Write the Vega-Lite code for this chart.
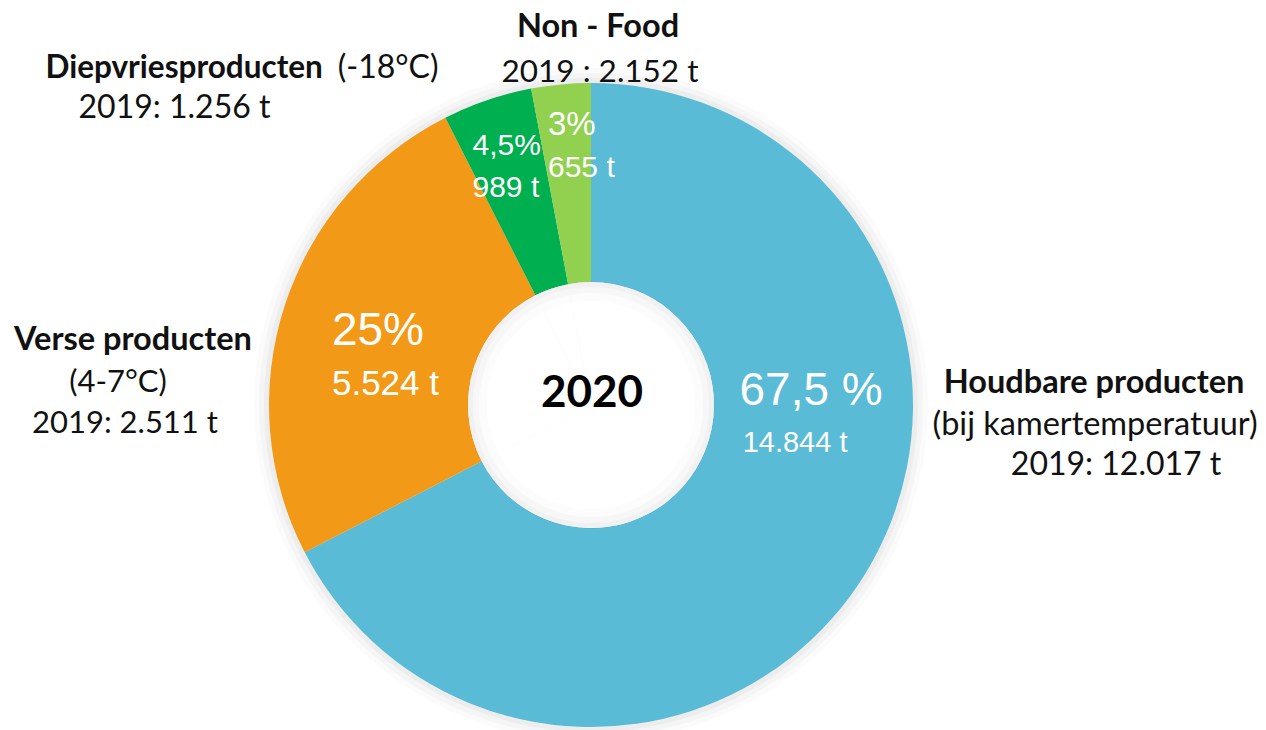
{
  "$schema": "https://vega.github.io/schema/vega-lite/v6.json",
  "autosize": "none",
  "width": 1182,
  "height": 650,
  "padding": {"left": 0, "top": 80, "right": 84, "bottom": 0},
  "background": "white",
  "config": {"view": {"stroke": null}},
  "datasets": {
    "slices": [
      {"cat": "Houdbare producten", "ord": 1, "t": 14844, "pct": "67,5 %", "tt": "14.844 t", "sub": "(bij kamertemperatuur)", "prev": "2019: 12.017 t"},
      {"cat": "Verse producten", "ord": 2, "t": 5524, "pct": "25%", "tt": "5.524 t", "sub": "(4-7°C)", "prev": "2019: 2.511 t"},
      {"cat": "Diepvriesproducten", "ord": 3, "t": 989, "pct": "4,5%", "tt": "989 t", "sub": "(-18°C)", "prev": "2019: 1.256 t"},
      {"cat": "Non - Food", "ord": 4, "t": 655, "pct": "3%", "tt": "655 t", "sub": "", "prev": "2019 : 2.152 t"}
    ],
    "centre": [{"year": "2020"}]
  },
  "data": {"name": "slices"},
  "encoding": {
    "theta": {"field": "t", "type": "quantitative", "stack": true},
    "order": {"field": "ord", "type": "quantitative", "sort": "ascending"}
  },
  "layer": [
    {"mark": {"type": "arc", "radius": 337, "radius2": 0, "fill": "#000", "fillOpacity": 0.015}},
    {"mark": {"type": "arc", "radius": 332, "radius2": 0, "fill": "#000", "fillOpacity": 0.022}},
    {"mark": {"type": "arc", "radius": 327, "radius2": 0, "fill": "#000", "fillOpacity": 0.03}},
    {
      "mark": {"type": "arc", "radius": 322, "radius2": 123},
      "encoding": {
        "color": {
          "field": "cat", "type": "nominal", "legend": null,
          "scale": {
            "domain": ["Houdbare producten", "Verse producten", "Diepvriesproducten", "Non - Food"],
            "range": ["#59BBD6", "#F29A17", "#00AF50", "#92D050"]
          }
        }
      }
    },
    {"mark": {"type": "arc", "radius": 123, "radius2": 0, "fill": "white"}},
    {"mark": {"type": "arc", "radius": 123.5, "radius2": 104, "fill": "#000", "fillOpacity": 0.012}},
    {"mark": {"type": "arc", "radius": 123.5, "radius2": 112, "fill": "#000", "fillOpacity": 0.018}},
    {"mark": {"type": "arc", "radius": 123.5, "radius2": 118, "fill": "#000", "fillOpacity": 0.025}},

    {"mark": {"type": "text", "radius": 225, "font": "Liberation Sans", "fontSize": 46, "fill": "white", "align": "center", "baseline": "alphabetic", "dx": 28, "dy": -117},
     "encoding": {"text": {"condition": {"test": "datum.ord == 1", "field": "pct"}, "value": ""}}},
    {"mark": {"type": "text", "radius": 225, "font": "Liberation Sans", "fontSize": 29, "fill": "white", "align": "center", "baseline": "alphabetic", "dx": 12, "dy": -70},
     "encoding": {"text": {"condition": {"test": "datum.ord == 1", "field": "tt"}, "value": ""}}},
    {"mark": {"type": "text", "radius": 225, "font": "Lato", "fontWeight": "bold", "fontSize": 32.5, "fill": "#111", "align": "center", "baseline": "alphabetic", "dx": 311, "dy": -129},
     "encoding": {"text": {"condition": {"test": "datum.ord == 1", "field": "cat"}, "value": ""}}},
    {"mark": {"type": "text", "radius": 225, "font": "Lato", "fontSize": 32.5, "fill": "#111", "align": "center", "baseline": "alphabetic", "dx": 312, "dy": -87},
     "encoding": {"text": {"condition": {"test": "datum.ord == 1", "field": "sub"}, "value": ""}}},
    {"mark": {"type": "text", "radius": 225, "font": "Lato", "fontSize": 32, "fill": "#111", "align": "center", "baseline": "alphabetic", "dx": 333, "dy": -47},
     "encoding": {"text": {"condition": {"test": "datum.ord == 1", "field": "prev"}, "value": ""}}},

    {"mark": {"type": "text", "radius": 225, "font": "Liberation Sans", "fontSize": 46, "fill": "white", "align": "left", "baseline": "alphabetic", "dx": -45, "dy": 9},
     "encoding": {"text": {"condition": {"test": "datum.ord == 2", "field": "pct"}, "value": ""}}},
    {"mark": {"type": "text", "radius": 225, "font": "Liberation Sans", "fontSize": 35, "fill": "white", "align": "left", "baseline": "alphabetic", "dx": -45, "dy": 59},
     "encoding": {"text": {"condition": {"test": "datum.ord == 2", "field": "tt"}, "value": ""}}},
    {"mark": {"type": "text", "radius": 225, "font": "Lato", "fontWeight": "bold", "fontSize": 32.5, "fill": "#111", "align": "center", "baseline": "alphabetic", "dx": -244, "dy": 14},
     "encoding": {"text": {"condition": {"test": "datum.ord == 2", "field": "cat"}, "value": ""}}},
    {"mark": {"type": "text", "radius": 225, "font": "Lato", "fontSize": 31, "fill": "#111", "align": "center", "baseline": "alphabetic", "dx": -259, "dy": 56},
     "encoding": {"text": {"condition": {"test": "datum.ord == 2", "field": "sub"}, "value": ""}}},
    {"mark": {"type": "text", "radius": 225, "font": "Lato", "fontSize": 31, "fill": "#111", "align": "center", "baseline": "alphabetic", "dx": -252, "dy": 97},
     "encoding": {"text": {"condition": {"test": "datum.ord == 2", "field": "prev"}, "value": ""}}},

    {"mark": {"type": "text", "radius": 225, "font": "Liberation Sans", "fontSize": 30, "fill": "white", "align": "left", "baseline": "alphabetic", "dx": -46, "dy": -37},
     "encoding": {"text": {"condition": {"test": "datum.ord == 3", "field": "pct"}, "value": ""}}},
    {"mark": {"type": "text", "radius": 225, "font": "Liberation Sans", "fontSize": 30, "fill": "white", "align": "left", "baseline": "alphabetic", "dx": -46, "dy": 5},
     "encoding": {"text": {"condition": {"test": "datum.ord == 3", "field": "tt"}, "value": ""}}},
    {"mark": {"type": "text", "radius": 225, "font": "Lato", "fontWeight": "bold", "fontSize": 31.5, "fill": "#111", "align": "left", "baseline": "alphabetic", "dx": -473, "dy": -114},
     "encoding": {"text": {"condition": {"test": "datum.ord == 3", "field": "cat"}, "value": ""}}},
    {"mark": {"type": "text", "radius": 225, "font": "Lato", "fontSize": 32, "fill": "#111", "align": "right", "baseline": "alphabetic", "dx": -80, "dy": -114},
     "encoding": {"text": {"condition": {"test": "datum.ord == 3", "field": "sub"}, "value": ""}}},
    {"mark": {"type": "text", "radius": 225, "font": "Lato", "fontSize": 32, "fill": "#111", "align": "center", "baseline": "alphabetic", "dx": -344, "dy": -74},
     "encoding": {"text": {"condition": {"test": "datum.ord == 3", "field": "prev"}, "value": ""}}},

    {"mark": {"type": "text", "radius": 225, "font": "Liberation Sans", "fontSize": 33, "fill": "white", "align": "left", "baseline": "alphabetic", "dx": -22, "dy": -46},
     "encoding": {"text": {"condition": {"test": "datum.ord == 4", "field": "pct"}, "value": ""}}},
    {"mark": {"type": "text", "radius": 225, "font": "Liberation Sans", "fontSize": 30, "fill": "white", "align": "left", "baseline": "alphabetic", "dx": -22, "dy": -4},
     "encoding": {"text": {"condition": {"test": "datum.ord == 4", "field": "tt"}, "value": ""}}},
    {"mark": {"type": "text", "radius": 225, "font": "Lato", "fontWeight": "bold", "fontSize": 32.5, "fill": "#111", "align": "center", "baseline": "alphabetic", "dx": 28, "dy": -144},
     "encoding": {"text": {"condition": {"test": "datum.ord == 4", "field": "cat"}, "value": ""}}},
    {"mark": {"type": "text", "radius": 225, "font": "Lato", "fontSize": 31.5, "fill": "#111", "align": "center", "baseline": "alphabetic", "dx": 30, "dy": -99},
     "encoding": {"text": {"condition": {"test": "datum.ord == 4", "field": "prev"}, "value": ""}}},

    {
      "data": {"name": "centre"},
      "mark": {"type": "text", "font": "Lato", "fontWeight": "bold", "fontSize": 44, "fill": "#000", "align": "center", "baseline": "alphabetic", "dx": 1, "dy": 2},
      "encoding": {"theta": null, "order": null, "text": {"field": "year", "type": "nominal"}}
    }
  ]
}
